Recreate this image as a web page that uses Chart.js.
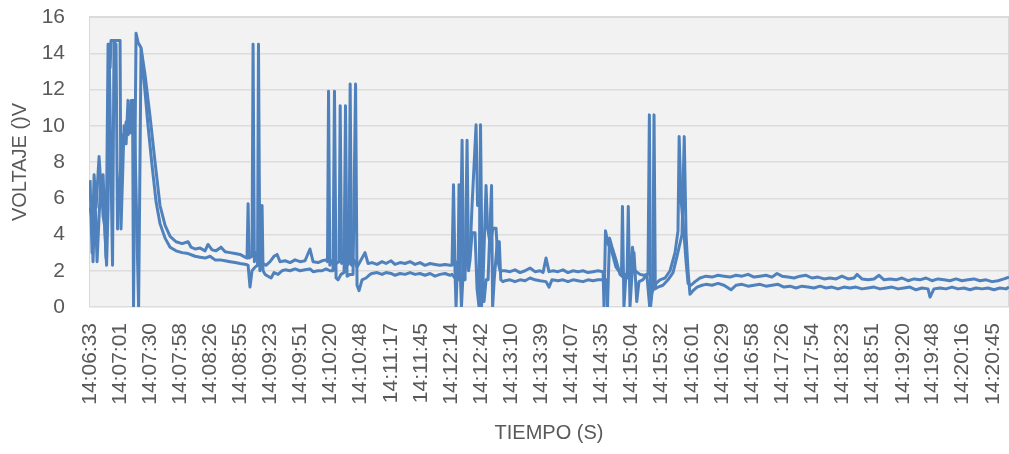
<!DOCTYPE html>
<html lang="es">
<head>
<meta charset="UTF-8">
<title>Voltaje vs tiempo</title>
<script src="https://cdn.jsdelivr.net/npm/chart.js"></script>
<style>
  html, body { margin: 0; padding: 0; background: #fff; }
  #wrap { width: 1009px; height: 454px; }
</style>
</head>
<body>
<div id="wrap"><canvas id="grafica"></canvas></div>
<script>
// etiquetas del eje X (hora de la lectura)
const tickLabels = ['14:06:33','14:07:01','14:07:30','14:07:58','14:08:26','14:08:55','14:09:23','14:09:51',
  '14:10:20','14:10:48','14:11:17','14:11:45','14:12:14','14:12:42','14:13:10','14:13:39','14:14:07',
  '14:14:35','14:15:04','14:15:32','14:16:01','14:16:29','14:16:58','14:17:26','14:17:54','14:18:23',
  '14:18:51','14:19:20','14:19:48','14:20:16','14:20:45'];

// serie 1 (superior): segundos desde 14:06:33 y voltaje
const tA = [0,1.9,3.8,5.7,8.5,10.4,12.3,15.1,17,18.9,19.8,28.3,29.2,32.1,34,35.8,37.7,40.1,41,43.4,45.3,48.1,51.9,56.6,61.3,66,70.8,75.5,81.1,86.8,92.5,95.3,99.1,103.8,108.5,111.3,115.1,118.9,123.6,127.4,132.1,136.8,141.5,146.2,148.1,149.1,150,152.8,153.8,155,156.6,158.5,160.4,163.2,166,169.8,173.6,176.4,179.2,184,188.7,193.4,198.1,202.8,207.5,210.4,215.1,218.9,222.6,224,225,226.2,229.2,232.1,234.9,236,237.3,239.6,242.5,244.3,245.4,246.7,249,251.9,254.7,259.4,262.3,266,270.8,275.5,279.2,284,287.7,292.5,297.2,301.9,306.6,311.3,316,320.8,325.5,330.2,334.9,339.6,341.5,342.9,344.3,345.3,346.7,349.1,351,352.4,354.7,356.6,358.5,360.4,364.2,365.6,367.9,369.3,370.8,373.6,375,377.4,380.2,383,384.9,386.8,391.5,396.2,400.9,405.7,410.4,415.1,419.8,424.5,427.4,430.2,433,436.8,441.5,446.2,450.9,455.7,460.4,465.1,469.8,474.5,479.2,484,484.9,486.3,488.7,492.5,496.2,500,501.4,502.3,503.7,505.6,509.4,511.8,514.1,518.9,522.6,526.4,527.7,528.8,530.2,534,537.7,542.5,547.2,551.9,554.7,555.8,557.5,560.4,562.3,564.2,567,570.8,575.5,581.1,586.8,592.5,598.1,603.8,609.4,615.1,620.8,626.4,632.1,637.7,643.4,648.1,652.8,658.5,664.2,669.8,675.5,681.1,686.8,692.5,698.1,703.8,709.4,715.1,720.8,723.6,728.3,734,739.6,744.4,749.1,754.7,760.4,766,771.7,777.4,783,788.7,794.3,800,805.7,811.3,817,822.6,828.3,834,839.6,845.3,851,856.6,862.3,867];
const vA = [7.0,3.0,7.3,5.5,8.3,6.5,7.3,2.7,14.5,13.2,14.7,14.7,4.3,10.0,9.0,11.4,9.6,11.4,0,15.1,14.6,14.3,12.8,10.5,8.0,5.6,4.5,3.9,3.6,3.5,3.6,3.3,3.2,3.25,3.1,3.45,3.15,3.1,3.3,3.05,3.0,2.95,2.9,2.75,2.7,5.7,2.7,2.8,14.5,2.5,3.0,2.8,2.6,2.4,2.3,2.5,2.8,2.9,2.5,2.55,2.45,2.6,2.5,2.55,3.2,2.5,2.45,2.55,2.6,2.5,11.9,2.3,2.6,2.4,2.5,11.1,2.4,2.6,2.3,2.4,12.3,2.3,2.6,2.2,2.5,3.0,2.4,2.45,2.35,2.5,2.4,2.55,2.35,2.45,2.4,2.5,2.35,2.45,2.3,2.4,2.35,2.3,2.35,2.3,2.3,6.75,2.0,0,2.5,2.0,9.2,1.5,2.5,3.0,3.0,5.6,10.05,5.6,5.6,0,1.5,6.7,4.4,3.5,4.35,4.35,2.5,2.0,2.0,1.95,2.05,1.9,2.0,2.15,1.95,2.0,1.9,2.7,1.95,2.0,1.95,2.05,1.9,2.0,1.95,2.0,1.9,1.95,2.0,1.95,0,4.2,3.5,3.0,2.2,1.9,1.9,5.55,0,1.8,2.0,3.3,2.0,1.8,1.75,1.8,10.6,0,0.8,1.3,1.5,1.6,2.0,3.0,4.2,9.4,6.0,4.0,2.5,1.3,1.2,1.4,1.6,1.7,1.65,1.75,1.7,1.65,1.75,1.7,1.8,1.65,1.7,1.75,1.65,1.85,1.7,1.65,1.6,1.7,1.75,1.6,1.65,1.55,1.6,1.55,1.7,1.55,1.6,1.8,1.55,1.5,1.55,1.75,1.5,1.55,1.5,1.6,1.45,1.55,1.5,1.6,1.45,1.55,1.5,1.45,1.55,1.45,1.5,1.55,1.45,1.5,1.4,1.45,1.55,1.65];

// serie 2 (inferior)
const tB = [0,1.9,2.8,4.7,6.6,8.5,10.4,12.3,13.7,15.6,17,17.9,21.2,22.6,24.5,25.9,28.3,30.2,32.1,34,35.8,37.7,38.6,41.5,45.8,48.1,50.9,54.7,58.5,62.3,66,70.8,75.5,81.1,86.8,92.5,99.1,103.8,108.5,113.2,117.9,122.6,127.4,132.1,136.8,141.5,147.2,149.1,150.9,152.8,155.7,158,158.9,160.2,161.3,162.3,163.2,165.1,167.9,170.8,173.6,177.4,181.1,184,188.7,193.4,198.1,202.8,207.5,210.4,215.1,218.9,222.6,226.4,229.2,230.6,232.1,234,236.8,239.6,241,242.5,245.3,248.1,250.5,251.9,253.8,256.6,260.4,264.2,266,270.8,275.5,279.2,284,287.7,292.5,297.2,301.9,306.6,311.3,316,320.8,325.5,330.2,334.9,339.6,341.5,344.3,347.1,348.1,349.5,350.4,351.9,353.8,355.7,357.1,358.5,360.4,363.2,365.1,367,368.4,369.8,371.7,373.6,375.5,378.8,379.8,381.3,384.2,386.1,387.5,389.6,391.5,396.2,400.9,405.7,410.4,415.1,419.8,424.5,430.2,433,435.8,441.5,446.2,450.9,455.7,460.4,465.1,469.8,474.5,479.2,484,486.8,488.2,490.1,492.5,496.2,500,503.7,506.6,507.8,509.4,511.3,513.2,515.8,517.9,521.5,525.3,528,530.9,532.1,533.3,535.8,540.5,545.3,550,553.8,558.5,560.6,562.3,564.2,566,568.9,572.7,577.4,581.1,586.8,592.5,598.1,604.7,609.4,615.1,620.8,626.4,632.1,637.7,643.4,649.1,654.7,660.4,666,671.7,677.4,683,688.7,694.3,700,705.7,711.3,717,722.6,728.3,734,739.6,745.3,751,756.6,762.3,767.9,773.6,779.2,784.9,790.6,792.5,796.2,801.9,807.5,813.2,818.9,824.5,830.2,835.9,841.5,847.2,852.8,858.5,864.2,867];
const vB = [5.5,4.8,2.5,6.0,2.5,5.0,7.2,5.0,4.5,2.3,5.5,14.5,2.3,14.6,14.5,4.3,7.0,9.5,9.0,10.2,9.5,10.0,11.4,11.4,0,14.2,12.5,10.0,7.8,5.8,4.6,3.8,3.3,3.1,3.0,2.95,2.8,2.75,2.7,2.8,2.6,2.6,2.55,2.5,2.45,2.4,2.35,2.3,1.1,2.0,2.2,2.3,14.5,2.0,2.3,5.6,2.0,1.8,1.7,1.6,1.9,1.8,2.0,2.05,2.0,2.1,2.0,2.05,2.1,1.95,2.0,2.0,2.1,2.0,2.0,11.9,1.6,1.5,1.8,1.9,11.1,1.7,1.8,1.8,12.3,1.2,0.9,1.5,1.6,1.8,1.85,1.9,1.8,1.9,1.85,1.75,1.85,1.8,1.9,1.8,1.85,1.75,1.85,1.7,1.8,1.85,1.75,1.8,1.6,1.5,6.75,1.5,0,1.8,1.5,9.2,2.0,2.6,4.1,4.1,1.0,0,10.05,2.0,0.3,1.5,1.5,6.7,0,1.5,3.6,3.6,1.5,1.4,1.45,1.5,1.4,1.5,1.45,1.6,1.5,1.45,1.4,1.1,1.5,1.45,1.5,1.4,1.5,1.45,1.4,1.5,1.45,1.5,1.5,1.5,0,3.8,3.3,2.6,1.8,1.6,1.6,5.55,0,1.8,3.0,0.3,1.4,1.5,1.8,0,1.2,10.6,1.0,1.1,1.2,1.5,1.9,2.8,4.0,9.4,4.0,2.0,0.7,0.9,1.1,1.2,1.25,1.2,1.3,1.2,0.95,1.2,1.25,1.15,1.2,1.25,1.15,1.2,1.25,1.1,1.15,1.05,1.15,1.1,1.05,1.15,1.05,1.1,1.0,1.1,1.05,1.1,1.0,1.05,1.1,1.0,1.05,1.1,1.0,1.05,1.1,0.95,1.05,1.0,0.55,1.0,1.05,1.0,1.1,1.0,1.05,0.95,1.05,1.0,1.05,0.95,1.05,1.0,1.1];

// posicion de cada etiqueta en segundos desde la primera
function aSegundos(h) {
  const p = h.split(':').map(Number);
  return p[0] * 3600 + p[1] * 60 + p[2];
}
const t0 = aSegundos(tickLabels[0]);
const tickPos = tickLabels.map(h => aSegundos(h) - t0);

const azul = '#4F81BD';
const gris = '#595959';

// fondo gris del area de trazado
const fondoPlot = {
  id: 'fondoPlot',
  beforeDraw(chart) {
    const a = chart.chartArea;
    const ctx = chart.ctx;
    ctx.save();
    ctx.fillStyle = '#F2F2F2';
    ctx.fillRect(a.left, a.top, a.right - a.left, a.bottom - a.top);
    ctx.strokeStyle = '#D9D9D9';
    ctx.lineWidth = 1;
    ctx.strokeRect(a.left + 0.5, a.top + 0.5, a.right - a.left - 1, a.bottom - a.top - 1);
    ctx.restore();
  }
};

function serie(t, v) {
  return t.map((x, i) => ({ x: x, y: v[i] }));
}

const ctx = document.getElementById('grafica').getContext('2d');
new Chart(ctx, {
  type: 'line',
  data: {
    datasets: [
      { data: serie(tA, vA), borderColor: azul, borderWidth: 3, pointRadius: 0, borderJoinStyle: 'round', tension: 0 },
      { data: serie(tB, vB), borderColor: azul, borderWidth: 3, pointRadius: 0, borderJoinStyle: 'round', tension: 0 }
    ]
  },
  options: {
    responsive: true,
    maintainAspectRatio: false,
    animation: false,
    layout: { padding: { top: 17, left: 0, right: 0, bottom: 0 } },
    plugins: { legend: { display: false }, tooltip: { enabled: false } },
    scales: {
      x: {
        type: 'linear',
        min: -1,
        max: 867,
        afterBuildTicks: (scale) => { scale.ticks = tickPos.map(v => ({ value: v })); },
        afterFit: (scale) => { scale.height = 147; scale.paddingLeft = 0; scale.paddingRight = 0; },
        grid: { display: false, drawTicks: false },
        border: { display: false },
        ticks: {
          autoSkip: false,
          minRotation: 90,
          maxRotation: 90,
          padding: 16,
          color: gris,
          font: { family: 'Liberation Sans', size: 21 },
          callback: (value, index) => tickLabels[index]
        },
        title: {
          display: true,
          text: 'TIEMPO (S)',
          color: gris,
          font: { family: 'Liberation Sans', size: 20 },
          padding: { top: 0, bottom: 9 }
        }
      },
      y: {
        min: 0,
        max: 16,
        afterFit: (scale) => { scale.width = 89; scale.paddingTop = 0; scale.paddingBottom = 0; },
        grid: { color: '#DCDCDC', lineWidth: 1.5, drawTicks: false },
        border: { display: false },
        ticks: {
          stepSize: 2,
          padding: 24,
          color: gris,
          font: { family: 'Liberation Sans', size: 21 }
        },
        title: {
          display: true,
          text: 'VOLTAJE ()V',
          color: gris,
          font: { family: 'Liberation Sans', size: 20 },
          padding: { top: 8, bottom: 0 }
        }
      }
    }
  },
  plugins: [fondoPlot]
});
</script>
</body>
</html>
